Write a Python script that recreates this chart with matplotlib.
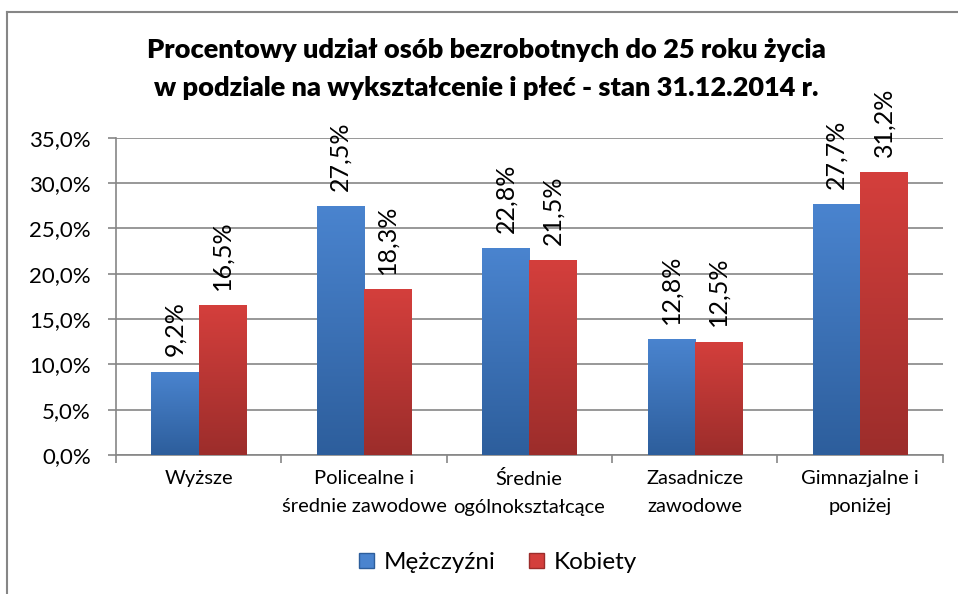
import matplotlib.pyplot as plt
import numpy as np
from matplotlib.lines import Line2D
from matplotlib.patches import Patch
from matplotlib.colors import LinearSegmentedColormap

plt.rcParams['font.family'] = ['Lato', 'DejaVu Sans']

categories = ["Wyższe", "Policealne i\nśrednie zawodowe", "Średnie\nogólnokształcące",
              "Zasadnicze\nzawodowe", "Gimnazjalne i\nponiżej"]
men = [9.2, 27.5, 22.8, 12.8, 27.7]
women = [16.5, 18.3, 21.5, 12.5, 31.2]
series_names = ["Mężczyźni", "Kobiety"]
y_ticks = [0, 5, 10, 15, 20, 25, 30, 35]

blue_top, blue_bot = "#4a84cf", "#2d5e9c"
red_top, red_bot = "#d43f3c", "#9c2d2b"

fig = plt.figure(figsize=(9.58, 5.94), dpi=100)
ax = fig.add_axes([0.121, 0.234, 0.863, 0.534])

x = np.arange(len(categories))
w = 0.285


def gradient_bars(xs, vals, top, bot):
    cmap = LinearSegmentedColormap.from_list("g", [bot, top])
    bars = ax.bar(xs, vals, width=w, color=top, zorder=3)
    grad = np.linspace(0, 1, 256).reshape(-1, 1)
    for b in bars:
        x0, h = b.get_x(), b.get_height()
        im = ax.imshow(grad, cmap=cmap, origin='lower', aspect='auto',
                       extent=[x0, x0 + w, 0, h], zorder=3)
        im.set_clip_path(b)
        b.set_alpha(0)
    return bars


gradient_bars(x - w / 2, men, blue_top, blue_bot)
gradient_bars(x + w / 2, women, red_top, red_bot)

for xs, vals in [(x - w / 2, men), (x + w / 2, women)]:
    for xi, v in zip(xs, vals):
        ax.annotate(f"{v:.1f}%".replace(".", ","), (xi, v), xytext=(0, 11),
                    textcoords='offset points', rotation=90, ha='center',
                    va='bottom', fontsize=18)

ax.set_xlim(-0.5, len(categories) - 0.5)
ax.set_ylim(0, 35)
ax.set_yticks(y_ticks)
ax.set_yticklabels([f"{t:.1f}%".replace(".", ",") for t in y_ticks], fontsize=16)
ax.set_xticks(np.arange(len(categories) + 1) - 0.5)
ax.set_xticklabels([])
ax.set_xticks(x, minor=True)
ax.set_xticklabels(categories, minor=True, fontsize=14.5, linespacing=1.8)
ax.tick_params(axis='x', which='minor', length=0, pad=11)
ax.tick_params(axis='x', which='major', length=6, color='#868686', width=1.2)
ax.tick_params(axis='y', length=6, color='#868686', width=1.2, pad=12)
ax.grid(axis='y', color='#868686', linewidth=1.2, zorder=0)
ax.set_axisbelow(True)
for s in ['top', 'right']:
    ax.spines[s].set_visible(False)
for s in ['left', 'bottom']:
    ax.spines[s].set_color('#868686')
    ax.spines[s].set_linewidth(1.2)

fig.text(0.508, 0.884, "Procentowy udział osób bezrobotnych do 25 roku życia\n"
         "w podziale na wykształcenie i płeć - stan 31.12.2014 r.",
         ha='center', va='center', fontsize=19.5, fontweight='heavy', linespacing=1.7)

handles = [Patch(facecolor=blue_top, edgecolor=blue_bot),
           Patch(facecolor=red_top, edgecolor=red_bot)]
fig.legend(handles, series_names, loc='center', bbox_to_anchor=(0.52, 0.053),
           ncol=2, frameon=False, fontsize=17.5, handlelength=0.6, handleheight=0.6,
           handletextpad=0.4, columnspacing=1.4)

fig.add_artist(Line2D([0.0075, 0.0075], [0, 0.98], transform=fig.transFigure,
                      color='#868686', linewidth=1.5))
fig.add_artist(Line2D([0.0075, 1.0], [0.98, 0.98], transform=fig.transFigure,
                      color='#868686', linewidth=1.5))

fig.savefig("out.png", dpi=100)
